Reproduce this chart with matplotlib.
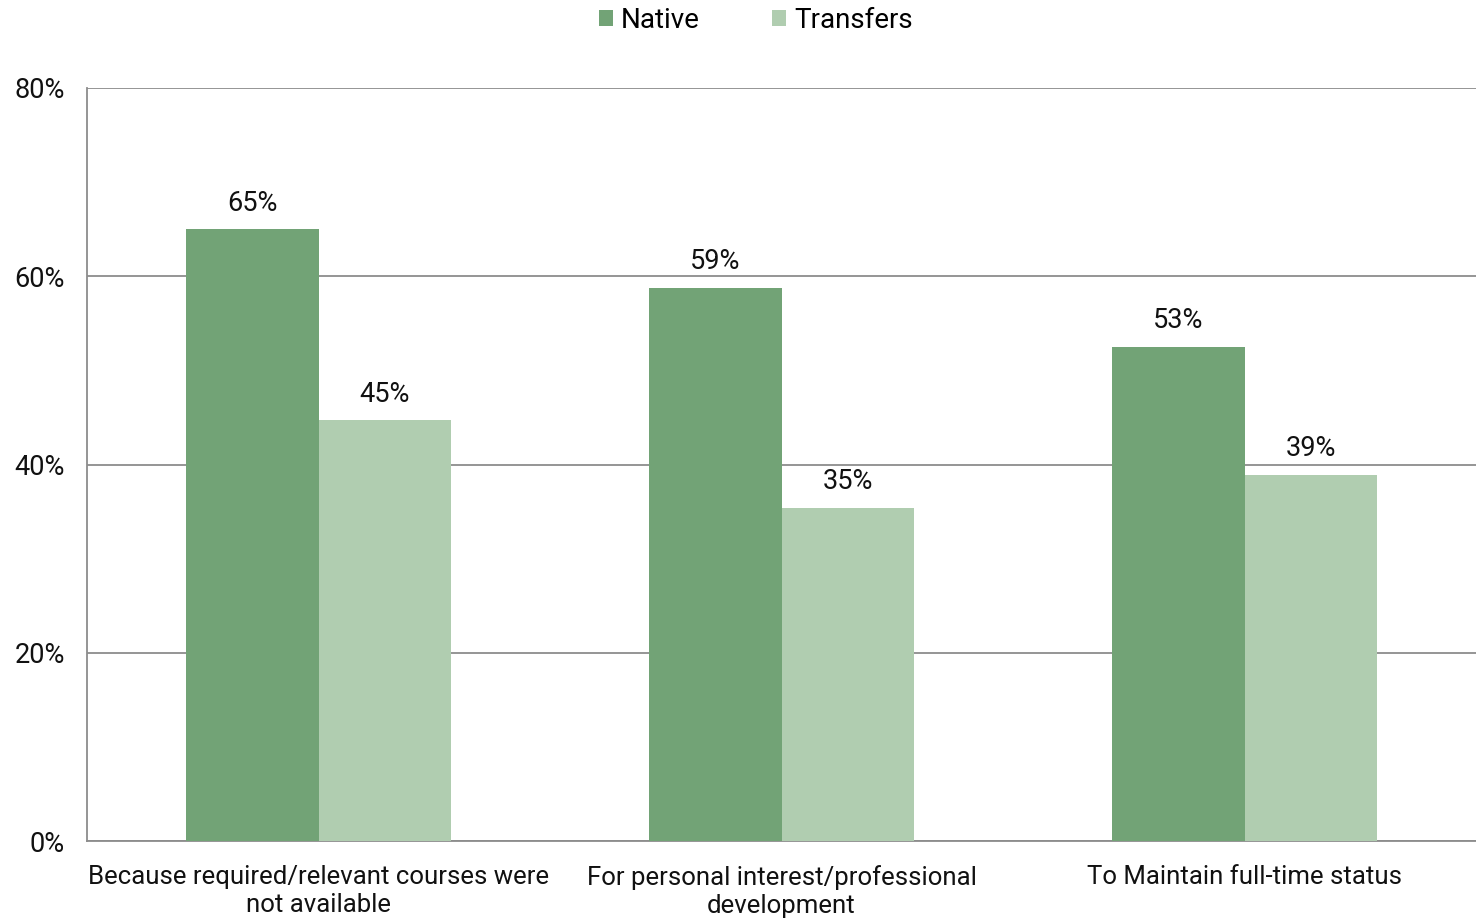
import numpy as np
import matplotlib
matplotlib.use("Agg")
import matplotlib.pyplot as plt
from matplotlib.ticker import PercentFormatter

categories = ["Because required/relevant courses were\nnot available",
              "For personal interest/professional\ndevelopment",
              "To Maintain full-time status"]
native = [65.0, 58.8, 52.5]
transfers = [44.7, 35.4, 38.9]
native_labels = ["65%", "59%", "53%"]
transfer_labels = ["45%", "35%", "39%"]

C_NAT = "#72a376"
C_TRF = "#b0cdb0"
GRID = "#8c8c8c"

plt.rcParams.update({"font.family": "Roboto", "font.size": 19})

fig = plt.figure(figsize=(14.76, 9.18), dpi=100)
ax = fig.add_axes([87 / 1476, 1 - 841 / 918, 1 - 87 / 1476, (841 - 88) / 918])

x = np.arange(len(categories))
w = 0.287
b1 = ax.bar(x - w / 2, native, w, color=C_NAT, label="Native", zorder=3)
b2 = ax.bar(x + w / 2, transfers, w, color=C_TRF, label="Transfers", zorder=3)
ax.bar_label(b1, labels=native_labels, padding=9, fontsize=19.5, color="#111")
ax.bar_label(b2, labels=transfer_labels, padding=9, fontsize=19.5, color="#111")

ax.set_xlim(-0.5, 2.5)
ax.set_ylim(0, 80)
ax.set_yticks([0, 20, 40, 60, 80])
ax.yaxis.set_major_formatter(PercentFormatter(decimals=0))
ax.tick_params(axis="y", labelsize=19.5)
ax.set_xticks(x)
ax.set_xticklabels(categories, fontsize=18.5, color="#111", linespacing=1.22)
ax.tick_params(axis="both", length=0, colors="#111")
ax.tick_params(axis="x", pad=17)
ax.tick_params(axis="y", pad=16)
ax.grid(axis="y", color=GRID, lw=1.3, zorder=0)
for s in ["top", "right"]:
    ax.spines[s].set_visible(False)
for s in ["left", "bottom"]:
    ax.spines[s].set_color(GRID)
    ax.spines[s].set_linewidth(1.3)

fig.legend(handles=[b1, b2], loc="upper center", bbox_to_anchor=(756 / 1476, 1.02),
           ncol=2, frameon=False, fontsize=20, handlelength=0.5, handleheight=0.5,
           handletextpad=0.3, columnspacing=2.6)

fig.savefig("out.png", dpi=100)
